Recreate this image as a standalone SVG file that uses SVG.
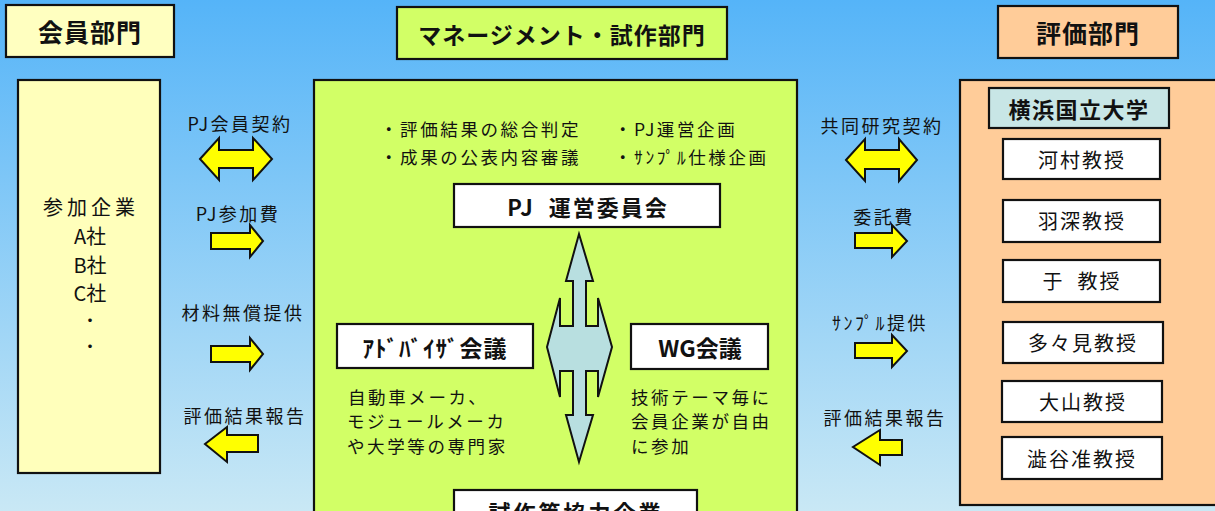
<svg xmlns="http://www.w3.org/2000/svg" width="1215" height="511" viewBox="0 0 1215 511">
<defs>
<linearGradient id="bg" x1="0" y1="0" x2="0" y2="1">
<stop offset="0" stop-color="#55b4f8"/>
<stop offset="1" stop-color="#c9e8f5"/>
</linearGradient>
<style>
.box{stroke:#111;stroke-width:2.2}
.t{font-family:"Noto Sans CJK JP","Noto Sans",sans-serif;fill:#111}
.h{font-size:25px;font-weight:bold;text-anchor:middle;letter-spacing:1px}
.lbl{font-size:18px;text-anchor:middle;letter-spacing:2.5px}
.body{font-size:17.5px;letter-spacing:2.6px}
.prof{font-size:20px;text-anchor:middle;letter-spacing:2px}
.mem{font-size:20px;text-anchor:middle}
.ya{fill:#ffff00;stroke:#111;stroke-width:2;stroke-linejoin:miter}
</style>
</defs>
<rect width="1215" height="511" fill="url(#bg)"/>

<g id="hdr-member">
<rect class="box" x="6" y="5" width="168" height="52" fill="#ffffc0"/>
<text class="t h" x="90" y="42">会員部門</text>
</g>
<g id="hdr-mgmt">
<rect class="box" x="397" y="7" width="330" height="52" fill="#d2ff66"/>
<text class="t h" style="font-size:23px" x="562" y="44">マネージメント・試作部門</text>
</g>
<g id="hdr-eval">
<rect class="box" x="998" y="6" width="180" height="52" fill="#ffcc99"/>
<text class="t h" x="1088" y="43">評価部門</text>
</g>

<g id="member-panel">
<rect class="box" x="18" y="80" width="142" height="393" fill="#ffffbb"/>
<text class="t mem" x="91" y="215" style="letter-spacing:4px">参加企業</text>
<text class="t mem" x="90" y="244">A社</text>
<text class="t mem" x="90" y="273">B社</text>
<text class="t mem" x="90" y="301">C社</text>
<text class="t mem" style="font-size:17px" x="90" y="327">・</text>
<text class="t mem" style="font-size:17px" x="90" y="353">・</text>
</g>

<g id="mgmt-panel">
<rect class="box" x="314" y="80" width="483" height="445" fill="#d2ff66"/>
<text class="t body" x="380" y="136">・評価結果の総合判定</text>
<text class="t body" x="380" y="164">・成果の公表内容審議</text>
<text class="t body" x="614" y="136">・PJ運営企画</text>
<text class="t body" x="614" y="164">・ｻﾝﾌﾟﾙ仕様企画</text>
</g>
<g id="steering">
<rect class="box" x="454" y="184" width="266" height="43" fill="#ffffff"/>
<text class="t" style="font-size:22px;font-weight:bold;text-anchor:middle;letter-spacing:2px" x="588" y="216" xml:space="preserve">PJ  運営委員会</text>
</g>
<g id="advisory">
<rect class="box" x="337" y="324" width="196" height="44" fill="#ffffff"/>
<text class="t" style="font-size:23px;font-weight:bold;text-anchor:middle;letter-spacing:1px" x="435" y="357">ｱﾄﾞﾊﾞｲｻﾞ会議</text>
<text class="t body" x="348" y="404">自動車メーカ、</text>
<text class="t body" x="347" y="428">モジュールメーカ</text>
<text class="t body" x="347" y="453">や大学等の専門家</text>
</g>
<g id="wg">
<rect class="box" x="631" y="324" width="137" height="45" fill="#ffffff"/>
<text class="t" style="font-size:23px;font-weight:bold;text-anchor:middle" x="700" y="357">WG会議</text>
<text class="t body" x="631" y="404">技術テーマ毎に</text>
<text class="t body" x="631" y="428">会員企業が自由</text>
<text class="t body" x="631" y="453">に参加</text>
</g>
<g id="partners">
<rect class="box" x="454" y="490" width="243" height="40" fill="#ffffff"/>
<text class="t" style="font-size:22px;font-weight:bold;text-anchor:middle;letter-spacing:3px" x="576" y="521">試作等協力企業</text>
</g>

<g id="eval-panel">
<rect class="box" x="960" y="80" width="270" height="425" fill="#ffcc99"/>
</g>
<g id="ynu">
<rect class="box" x="989" y="88" width="180" height="40" fill="#c8e6e6"/>
<text class="t" style="font-size:22px;font-weight:bold;text-anchor:middle;letter-spacing:1.5px" x="1079" y="118">横浜国立大学</text>
</g>
<g id="prof-kawamura">
<rect class="box" x="1003" y="139" width="157" height="40" fill="#ffffff"/>
<text class="t prof" x="1082" y="168">河村教授</text>
</g>
<g id="prof-habuka">
<rect class="box" x="1003" y="200" width="157" height="42" fill="#ffffff"/>
<text class="t prof" x="1082" y="229">羽深教授</text>
</g>
<g id="prof-yu">
<rect class="box" x="1003" y="260" width="157" height="42" fill="#ffffff"/>
<text class="t prof" x="1082" y="289" xml:space="preserve">于  教授</text>
</g>
<g id="prof-tatami">
<rect class="box" x="1003" y="322" width="160" height="41" fill="#ffffff"/>
<text class="t prof" x="1083" y="351">多々見教授</text>
</g>
<g id="prof-oyama">
<rect class="box" x="1002" y="381" width="160" height="41" fill="#ffffff"/>
<text class="t prof" x="1083" y="410">大山教授</text>
</g>
<g id="prof-shibuya">
<rect class="box" x="1002" y="437" width="160" height="42" fill="#ffffff"/>
<text class="t prof" x="1082" y="467">澁谷准教授</text>
</g>

<g id="connectors">
<polygon fill="#b8dfe0" stroke="#111" stroke-width="2" points="579,234 593,281 586,281 586,326 598,326 598,298 612,347 598,397 598,371 586,371 586,415 593,415 579,462 566,415 573,415 573,371 560,371 560,397 547,347 560,298 560,326 573,326 573,281 566,281"/>

<text class="t lbl" x="240" y="131">PJ会員契約</text>
<polygon class="ya" points="200,159 219,138 219,150 253,150 253,138 272,159 253,180 253,168 219,168 219,180"/>
<text class="t lbl" x="238" y="221">PJ参加費</text>
<polygon class="ya" points="211,233 250,233 250,225 263,241 250,257 250,249 211,249"/>
<text class="t lbl" x="243" y="320">材料無償提供</text>
<polygon class="ya" points="211,346 250,346 250,338 263,354 250,370 250,362 211,362"/>
<text class="t lbl" x="245" y="423">評価結果報告</text>
<polygon class="ya" points="258,435 227,435 227,427 205,444 227,462 227,452 258,452"/>

<text class="t lbl" x="882" y="133">共同研究契約</text>
<polygon class="ya" points="846,160 865,139 865,150 899,150 899,139 917,160 899,181 899,169 865,169 865,181"/>
<text class="t lbl" x="884" y="224">委託費</text>
<polygon class="ya" points="855,233 892,233 892,225 907,241 892,257 892,248 855,248"/>
<text class="t lbl" x="880" y="330">ｻﾝﾌﾟﾙ提供</text>
<polygon class="ya" points="855,343 892,343 892,335 907,351 892,367 892,358 855,358"/>
<text class="t lbl" x="885" y="425">評価結果報告</text>
<polygon class="ya" points="902,440 880,440 880,430 853,447 880,465 880,455 902,455"/>
</g>
</svg>
